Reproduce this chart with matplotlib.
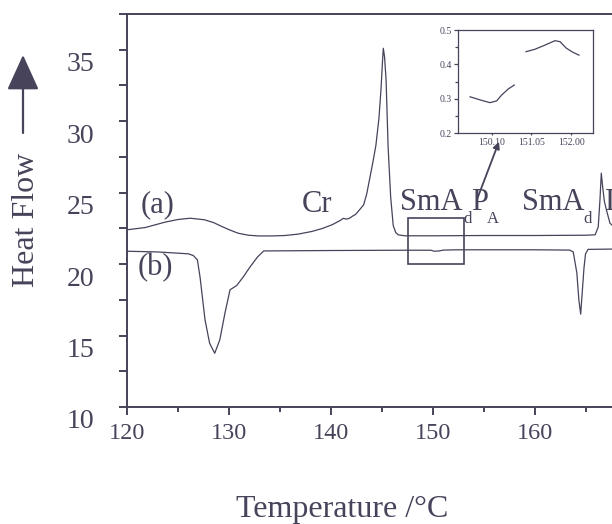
import matplotlib
matplotlib.use('Agg')
import matplotlib.pyplot as plt
import matplotlib.transforms as mtransforms
from matplotlib.patches import Rectangle

plt.rcParams['font.family'] = ['Liberation Serif', 'DejaVu Serif']
ink = '#46435a'

# DSC heating curve (a)
temp_a = [120.0, 121.8, 123.7, 125.0, 126.2, 127.6, 128.5, 129.3, 130.1, 130.9,
          131.9, 132.9, 134.2, 135.5, 136.8, 138.1, 139.1, 140.1, 140.9, 141.2,
          141.5, 141.8, 142.1, 142.4, 142.8, 143.2, 143.5, 143.8, 144.1, 144.4,
          144.7, 144.9, 145.05, 145.13, 145.25, 145.4, 145.6, 145.85, 146.1, 146.35,
          146.6, 147.2, 150.0, 155.0, 160.0, 165.0, 165.9, 166.2, 166.37, 166.5,
          166.65, 166.8, 167.0, 167.35, 167.6]
flow_a = [22.40, 22.56, 22.93, 23.12, 23.21, 23.10, 22.90, 22.63, 22.38, 22.16,
          22.02, 21.97, 21.97, 22.00, 22.10, 22.28, 22.48, 22.75, 23.05, 23.20,
          23.15, 23.20, 23.35, 23.47, 23.80, 24.15, 24.90, 26.00, 27.10, 28.30,
          30.20, 32.20, 34.20, 35.10, 34.50, 32.90, 28.20, 24.70, 22.70, 22.20,
          22.05, 21.98, 21.98, 22.00, 22.00, 22.02, 22.05, 22.60, 24.50, 26.36,
          25.30, 24.40, 23.80, 22.86, 22.70]

# DSC cooling curve (b)
temp_b = [120.0, 123.0, 126.0, 126.5, 126.9, 127.16, 127.65, 128.1, 128.6, 129.1,
          129.6, 130.1, 130.75, 131.4, 132.06, 132.8, 133.4, 140.0, 147.0, 149.8,
          150.1, 150.6, 151.0, 152.5, 160.0, 163.4, 163.75, 164.1, 164.3, 164.48,
          164.65, 164.8, 164.95, 165.2, 167.6]
flow_b = [20.90, 20.85, 20.72, 20.60, 20.30, 19.10, 16.10, 14.46, 13.76, 14.70,
          16.56, 18.20, 18.50, 19.10, 19.80, 20.50, 20.92, 20.95, 20.97, 20.97,
          20.90, 20.92, 20.98, 21.00, 21.00, 20.98, 20.85, 19.40, 17.50, 16.50,
          18.20, 19.70, 20.70, 21.03, 21.05]

# inset: enlarged part of the boxed region, two pieces
inset_t1 = [149.59, 149.83, 150.06, 150.22, 150.34, 150.50, 150.64]
inset_v1 = [0.306, 0.297, 0.289, 0.294, 0.311, 0.329, 0.340]
inset_t2 = [150.92, 151.13, 151.33, 151.61, 151.73, 151.88, 152.04, 152.18]
inset_v2 = [0.437, 0.444, 0.454, 0.469, 0.466, 0.447, 0.435, 0.427]
inset_xticks = [150.10, 151.05, 152.00]
inset_xlabels = ['150.10', '151.05', '152.00']

fig = plt.figure(figsize=(6.12, 5.24), dpi=100)
ax = fig.add_axes([127 / 612, 117 / 524, 485 / 612, 393 / 524])

ax.plot(temp_a, flow_a, color=ink, lw=0.9)
ax.plot(temp_b, flow_b, color=ink, lw=0.9)

ax.set_xlim(120, 167.55)
ax.set_ylim(10, 37.5)
ax.set_xticks([120, 130, 140, 150, 160])
ax.set_xticks([125, 135, 145, 155, 165], minor=True)
ax.set_yticks([10, 15, 20, 25, 30, 35])
ax.set_yticks([12.5, 17.5, 22.5, 27.5, 32.5, 37.5], minor=True)
ax.spines['right'].set_visible(False)
for s in ['left', 'bottom', 'top']:
    ax.spines[s].set_linewidth(1.4)
    ax.spines[s].set_color(ink)
ax.tick_params(which='both', direction='out', color=ink, width=1.4, labelcolor=ink)
ax.tick_params(axis='x', which='major', length=5.5, pad=6, labelsize=17.5)
ax.tick_params(axis='x', which='minor', length=3.5)
ax.tick_params(axis='y', which='both', length=5.5, pad=18, labelsize=20)

# the y labels in the scan sit a bit below their ticks
shift = mtransforms.ScaledTranslation(0, -0.12, fig.dpi_scale_trans)
for lbl in ax.get_yticklabels():
    lbl.set_transform(lbl.get_transform() + shift)

fig.text(342 / 612, 1 - 510 / 524, 'Temperature /\u00b0C', ha='center', va='center',
         fontsize=23, color=ink)
fig.text(27 / 612, 1 - 220 / 524, 'Heat Flow', ha='center', va='center',
         rotation=90, fontsize=23, color=ink)
ax.annotate('', xy=(23, 524 - 55), xytext=(23, 524 - 133),
            xycoords='figure pixels', textcoords='figure pixels',
            arrowprops=dict(arrowstyle='-|>,head_length=1.1,head_width=0.5',
                            mutation_scale=20, color=ink, lw=1.6,
                            shrinkA=0, shrinkB=0))

# phase labels
big = 22
small = 12
ax.text(123.0, 24.15, '(a)', ha='center', va='center', fontsize=big, color=ink)
ax.text(122.8, 19.75, '(b)', ha='center', va='center', fontsize=big, color=ink)
ax.text(138.6, 24.15, 'Cr', ha='center', va='center', fontsize=big, color=ink)
ax.text(146.76, 23.8, 'SmA', ha='left', va='baseline', fontsize=big, color=ink)
ax.text(152.94, 22.9, 'd', ha='left', va='baseline', fontsize=small, color=ink)
ax.text(153.73, 23.8, 'P', ha='left', va='baseline', fontsize=big, color=ink)
ax.text(155.3, 22.9, 'A', ha='left', va='baseline', fontsize=small, color=ink)
ax.text(158.73, 23.8, 'SmA', ha='left', va='baseline', fontsize=big, color=ink)
ax.text(164.7, 22.9, 'd', ha='left', va='baseline', fontsize=small, color=ink)
ax.text(166.86, 23.8, 'I', ha='left', va='baseline', fontsize=big, color=ink)

# box around the enlarged region and pointer to inset
ax.add_patch(Rectangle((147.57, 20.0), 5.47, 3.21, fill=False, edgecolor=ink, lw=1.2))
ax.annotate('', xy=(156.47, 28.56), xytext=(154.3, 24.5),
            arrowprops=dict(arrowstyle='-|>', mutation_scale=10, color=ink, lw=1.3,
                            shrinkA=0, shrinkB=0))

# inset
axin = fig.add_axes([458.3 / 612, 1 - 133.3 / 524, 135 / 612, 103.3 / 524])
axin.plot(inset_t1, inset_v1, color=ink, lw=0.9)
axin.plot(inset_t2, inset_v2, color=ink, lw=0.9)
axin.set_xlim(149.31, 152.52)
axin.set_ylim(0.2, 0.5)
axin.set_xticks(inset_xticks)
axin.set_xticklabels(inset_xlabels)
axin.set_yticks([0.2, 0.3, 0.4, 0.5])
axin.set_yticklabels(['0.2', '0.3', '0.4', '0.5'])
axin.set_yticks([0.25, 0.35, 0.45], minor=True)
for s in axin.spines.values():
    s.set_linewidth(0.9)
    s.set_color(ink)
axin.tick_params(which='both', direction='out', color=ink, width=0.9,
                 labelcolor=ink, labelsize=7)
axin.tick_params(axis='y', which='major', length=3, pad=1.5)
axin.tick_params(axis='y', which='minor', length=2)
axin.tick_params(axis='x', length=1.5, pad=2)

fig.savefig('out.png', dpi=100)
